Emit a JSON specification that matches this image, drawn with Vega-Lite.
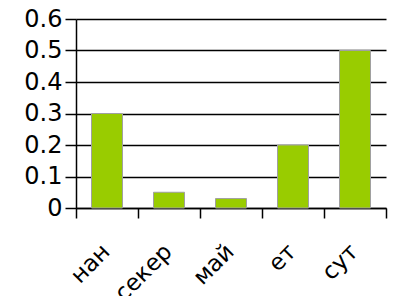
{
  "$schema": "https://vega.github.io/schema/vega-lite/v6.json",
  "width": 310,
  "height": 189,
  "autosize": {"type": "none"},
  "padding": {"left": 76, "top": 19, "right": 19, "bottom": 88},
  "background": "white",
  "data": {"values": [
    {"k": "нан", "v": 0.3},
    {"k": "секер", "v": 0.05},
    {"k": "май", "v": 0.03},
    {"k": "ет", "v": 0.2},
    {"k": "сут", "v": 0.5}
  ]},
  "config": {"view": {"stroke": null}, "font": "DejaVu Sans"},
  "mark": {"type": "bar", "color": "#99cc00", "stroke": "#a0a0a0", "strokeWidth": 1, "width": {"band": 0.5}},
  "encoding": {
    "x": {"field": "k", "type": "nominal", "sort": null,
      "scale": {"paddingInner": 0, "paddingOuter": 0},
      "axis": {"title": null, "labelAngle": -45, "labelFontSize": 23, "labelColor": "#000",
        "domainColor": "#000", "domainWidth": 1.5, "tickColor": "#000", "tickWidth": 1.5,
        "tickSize": 10, "tickBand": "extent", "labelPadding": 22, "labelOffset": -9}},
    "y": {"field": "v", "type": "quantitative",
      "scale": {"domain": [0, 0.6]},
      "axis": {"title": null, "values": [0, 0.1, 0.2, 0.3, 0.4, 0.5, 0.6], "labelFontSize": 24,
        "labelColor": "#000", "grid": true, "gridColor": "#000", "gridWidth": 1.5, "gridOpacity": 1,
        "domainColor": "#000", "domainWidth": 1.5, "tickColor": "#000", "tickWidth": 1.5,
        "tickSize": 11, "labelPadding": 3, "format": "~g"}}
  }
}
